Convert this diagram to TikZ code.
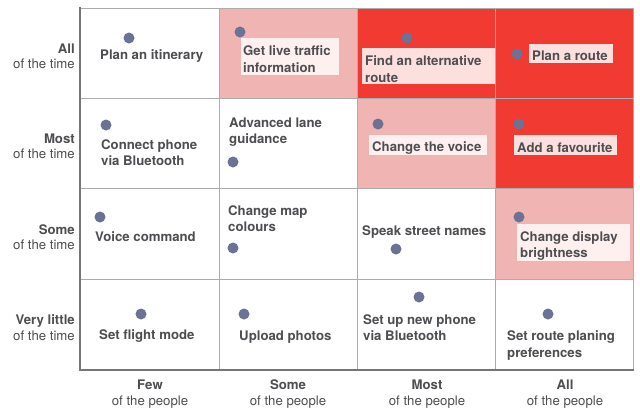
\documentclass[tikz,border=0pt]{standalone}
\usepackage{fontspec}
\setmainfont{TeX Gyre Heros}
\definecolor{cellred}{RGB}{241,58,50}
\definecolor{cellpink}{RGB}{240,180,178}
\definecolor{boxonred}{RGB}{251,224,222}
\definecolor{boxonpink}{RGB}{253,240,239}
\definecolor{dotcol}{RGB}{107,114,148}
\definecolor{txtcol}{RGB}{78,78,82}
\definecolor{gridcol}{RGB}{172,172,172}
\definecolor{axiscol}{RGB}{118,118,118}
\tikzset{
  dot/.style={circle,fill=dotcol,minimum size=11pt,inner sep=0pt},
  lbl/.style={anchor=west,inner sep=0pt,align=left,text=txtcol,yshift=-2pt,font=\fontsize{13.2}{16.3}\selectfont\bfseries},
  bgbox/.style={anchor=north west,inner sep=0pt,draw=none},
  onred/.style={bgbox,fill=boxonred},
  onpink/.style={bgbox,fill=boxonpink},
  ylab/.style={anchor=east,inner sep=0pt,align=right,text=txtcol,yshift=-2pt,font=\fontsize{13.2}{15.5}\selectfont},
  xlab/.style={anchor=center,inner sep=0pt,align=center,text=txtcol,yshift=-2pt,font=\fontsize{13.2}{16}\selectfont},
  gridline/.style={draw=gridcol,line width=0.9pt},
  axisline/.style={draw=axiscol,line width=2.4pt}
}
\begin{document}
\begin{tikzpicture}[x=1pt,y=-1pt]
\useasboundingbox (0,0) rectangle (640,413);
\fill[white] (0,0) rectangle (640,413);
% cell fills
\fill[cellpink] (219,8) rectangle (357,98);
\fill[cellred] (357,8) rectangle (633,98);
\fill[cellpink] (357,98) rectangle (495,188);
\fill[cellred] (495,98) rectangle (633,188);
\fill[cellpink] (495,188) rectangle (633,279);
% grid
\foreach \x in {219,357,495} \draw[gridline] (\x,8) -- (\x,370);
\foreach \y in {98,188,279} \draw[gridline] (81,\y) -- (633,\y);
\draw[gridline] (81,8) -- (633,8) -- (633,370);
\draw[axisline] (80,7) -- (80,370) -- (634,370);
% label backgrounds
\node[onpink,minimum width=98pt,minimum height=37pt] (b12) at (241,38) {};
\node[onred,minimum width=133pt,minimum height=36pt] (b13) at (362,48) {};
\node[onred,minimum width=84pt,minimum height=19pt] (b14) at (529,44) {};
\node[onpink,minimum width=118pt,minimum height=20pt] (b23) at (369,135) {};
\node[onred,minimum width=103pt,minimum height=20pt] (b24) at (514,135) {};
\node[onpink,minimum width=113pt,minimum height=37pt] (b34) at (517,224) {};
% row 1
\node[dot] (d11) at (129,38) {};
\node[lbl] (l11) at (100,54) {Plan an itinerary};
\node[dot] (d12) at (240,32) {};
\node[lbl] (l12) at (243,57) {Get live traffic\\information};
\node[dot] (d13) at (407,38) {};
\node[lbl] (l13) at (365,67) {Find an alternative\\route};
\node[dot] (d14) at (517,54) {};
\node[lbl] (l14) at (532,54) {Plan a route};
% row 2
\node[dot] (d21) at (106,125) {};
\node[lbl] (l21) at (101,151) {Connect phone\\via Bluetooth};
\node[lbl] (l22) at (229,130) {Advanced lane\\guidance};
\node[dot] (d22) at (233,162) {};
\node[dot] (d23) at (378,124) {};
\node[lbl] (l23) at (372,146) {Change the voice};
\node[dot] (d24) at (519,124) {};
\node[lbl] (l24) at (517,146) {Add a favourite};
% row 3
\node[dot] (d31) at (100,217) {};
\node[lbl] (l31) at (95,235) {Voice command};
\node[lbl] (l32) at (228,217) {Change map\\colours};
\node[dot] (d32) at (233,248) {};
\node[lbl] (l33) at (362,230) {Speak street names};
\node[dot] (d33) at (396,249) {};
\node[dot] (d34) at (519,217) {};
\node[lbl] (l34) at (520,244) {Change display\\brightness};
% row 4
\node[dot] (d41) at (141,314) {};
\node[lbl] (l41) at (99,334) {Set flight mode};
\node[dot] (d42) at (244,314) {};
\node[lbl] (l42) at (239,335) {Upload photos};
\node[dot] (d43) at (419,297) {};
\node[lbl] (l43) at (363,325.5) {Set up new phone\\via Bluetooth};
\node[dot] (d44) at (548,314) {};
\node[lbl] (l44) at (507,343.5) {Set route planing\\preferences};
% y axis labels
\node[ylab] (y1) at (75,54.5) {\textbf{All}\\of the time};
\node[ylab] (y2) at (75,144.5) {\textbf{Most}\\of the time};
\node[ylab] (y3) at (75,235) {\textbf{Some}\\of the time};
\node[ylab] (y4) at (75,325.5) {\textbf{Very little}\\of the time};
% x axis labels
\node[xlab] (x1) at (150,392) {\textbf{Few}\\of the people};
\node[xlab] (x2) at (288,392) {\textbf{Some}\\of the people};
\node[xlab] (x3) at (427,392) {\textbf{Most}\\of the people};
\node[xlab] (x4) at (565,392) {\textbf{All}\\of the people};
\end{tikzpicture}
\end{document}
